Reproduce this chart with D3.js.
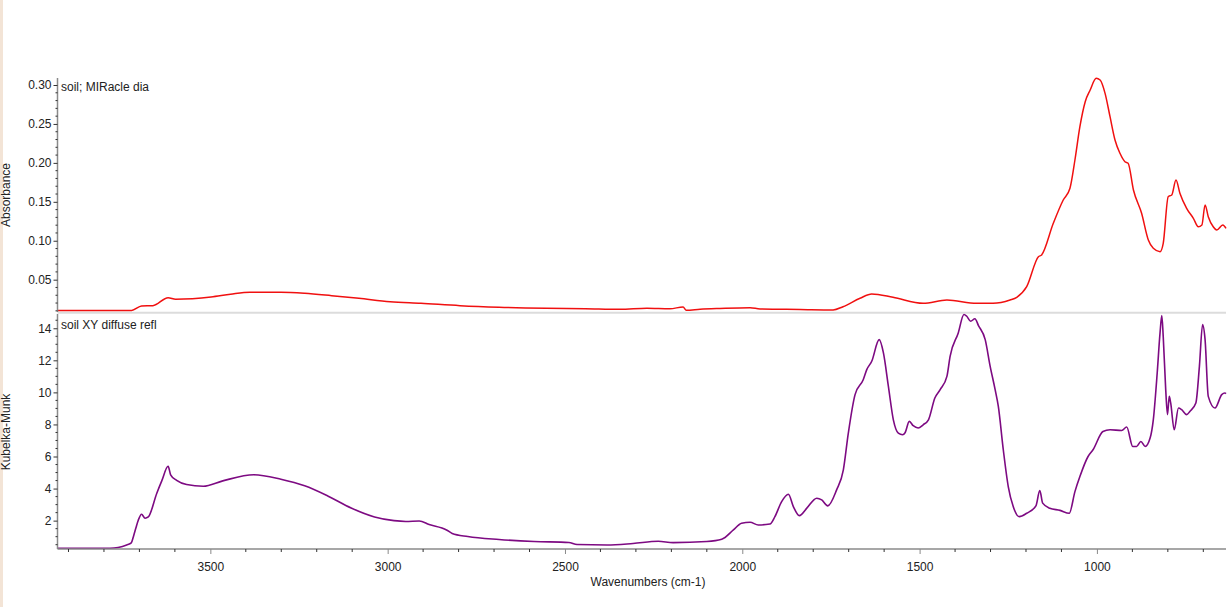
<!DOCTYPE html>
<html>
<head>
<meta charset="utf-8">
<script src="https://cdn.jsdelivr.net/npm/d3@7"></script>
<style>
  html, body { margin: 0; padding: 0; background: #fff; }
  svg { display: block; font-family: "Liberation Sans", Arial, sans-serif; }
</style>
</head>
<body>
<svg id="chart" width="1232" height="607"></svg>
<script>
// ---- Data (wavenumber cm-1, value) ----
const absWavenumbers = [3930,3783,3722,3694,3662,3619,3598,3498,3443,3388,3301,3234,3158,3081,2993,2906,2796,2686,2553,2443,2345,2269,2204,2167,2158,2119,2063,1978,1950,1837,1744,1716,1668,1635,1575,1490,1423,1339,1293,1245,1226,1198,1165,1156,1123,1095,1076,1062,1048,1033,1019,1002,991,977,963,949,935,921,912,897,874,855,841,822,813,799,789,777,766,747,728,714,704,695,686,672,662,645,636];
const absValues = [0.0105,0.0105,0.0105,0.0162,0.0166,0.0269,0.0250,0.0278,0.0313,0.0338,0.0338,0.0325,0.0295,0.0261,0.0218,0.0197,0.0166,0.0146,0.0133,0.0128,0.0120,0.0133,0.0126,0.0150,0.0108,0.0120,0.0130,0.0140,0.0124,0.0117,0.0111,0.0153,0.0261,0.0316,0.0274,0.0197,0.0239,0.0197,0.0197,0.0239,0.0274,0.0410,0.0795,0.0817,0.1224,0.1523,0.1674,0.2037,0.2465,0.2786,0.2936,0.3086,0.3064,0.2893,0.2593,0.2294,0.2123,0.2015,0.1995,0.1652,0.1353,0.1010,0.0903,0.0860,0.0967,0.1566,0.1588,0.1780,0.1610,0.1417,0.1288,0.1180,0.1202,0.1459,0.1309,0.1180,0.1138,0.1202,0.1160];

const kmWavenumbers = [3930,3783,3760,3736,3723,3717,3710,3703,3694,3684,3675,3651,3637,3619,3612,3595,3567,3520,3465,3377,3301,3234,3169,3103,3037,2982,2949,2911,2883,2834,2818,2774,2686,2587,2489,2466,2381,2308,2237,2195,2100,2058,2025,2002,1978,1955,1922,1908,1889,1870,1856,1839,1818,1790,1776,1759,1734,1715,1701,1682,1659,1649,1635,1614,1602,1588,1574,1560,1548,1541,1529,1518,1504,1490,1475,1457,1442,1423,1414,1391,1375,1367,1356,1344,1334,1315,1301,1287,1278,1264,1250,1236,1219,1198,1172,1161,1153,1133,1104,1078,1062,1048,1025,1011,983,963,930,916,899,888,876,864,850,841,830,822,817,813,806,801,796,792,782,770,761,747,738,721,711,702,695,686,667,648,639,636];
const kmValues = [0.275,0.275,0.325,0.48,0.61,1.0,1.54,2.04,2.4,2.15,2.23,3.71,4.48,5.39,4.86,4.51,4.25,4.14,4.48,4.86,4.58,4.17,3.54,2.79,2.23,2.0,1.95,1.98,1.76,1.42,1.2,1.01,0.825,0.70,0.64,0.51,0.48,0.575,0.71,0.63,0.70,0.84,1.42,1.84,1.90,1.73,1.79,2.25,3.19,3.65,2.875,2.31,2.78,3.40,3.29,2.92,3.92,5.17,7.46,9.86,10.79,11.42,11.94,13.29,12.46,10.375,8.29,7.46,7.36,7.48,8.19,7.92,7.78,7.98,8.29,9.65,10.17,11.0,12.25,13.71,14.86,14.75,14.44,14.59,14.17,13.29,11.625,10.17,9.125,6.42,4.125,2.875,2.25,2.46,2.92,3.875,3.09,2.775,2.64,2.46,3.81,4.75,6.0,6.42,7.56,7.67,7.625,7.84,6.625,6.625,6.94,6.625,7.15,8.29,11.21,13.71,14.79,13.48,10.17,8.61,9.75,9.34,7.67,9.025,8.92,8.61,8.81,9.34,11.625,14.23,13.29,9.75,9.025,9.86,9.96,9.92];

const xTickValues = [3500, 3000, 2500, 2000, 1500, 1000];
const absTickValues = [0.05, 0.10, 0.15, 0.20, 0.25, 0.30];
const kmTickValues = [2, 4, 6, 8, 10, 12, 14];
const xDomain = [3931, 636];
const absDomain = [0.0085, 0.309];
const kmDomain = [0.23, 14.89];

// ---- Layout ----
const svg = d3.select("#chart");
const left = 57.5, right = 1226;
const topY0 = 78, topY1 = 312;
const botY0 = 314, botY1 = 549;

// beige left strip
svg.append("rect").attr("x", 0).attr("y", 0).attr("width", 3).attr("height", 607).attr("fill", "#f3e4d6");

const x = d3.scaleLinear().domain(xDomain).range([left, right]);
const yA = d3.scaleLinear().domain(absDomain).range([topY1, topY0]);
const yK = d3.scaleLinear().domain(kmDomain).range([botY1, botY0]);

// divider
svg.append("line").attr("x1", left).attr("x2", right).attr("y1", 312.8).attr("y2", 312.8)
  .attr("stroke", "#dcdcdc").attr("stroke-width", 2);

// curves
const absData = absWavenumbers.map((w, i) => [w, absValues[i]]);
const kmData = kmWavenumbers.map((w, i) => [w, kmValues[i]]);

svg.append("path").datum(absData)
  .attr("fill", "none").attr("stroke", "#f01010").attr("stroke-width", 1.5)
  .attr("d", d3.line().x(d => x(d[0])).y(d => yA(d[1])).curve(d3.curveMonotoneX));

svg.append("path").datum(kmData)
  .attr("fill", "none").attr("stroke", "#7d0a82").attr("stroke-width", 1.6)
  .attr("d", d3.line().x(d => x(d[0])).y(d => yK(d[1])).curve(d3.curveMonotoneX));

// ---- Axes ----
const axisColor = "#8a8a8a";
const tickColor = "#333";
const fontSize = 12;
const fontFam = '"Liberation Sans", Arial, sans-serif';

// x axis
const gx = svg.append("g").attr("transform", `translate(0,${botY1})`);
gx.append("line").attr("x1", left).attr("x2", right).attr("y1", 0).attr("y2", 0)
  .attr("stroke", axisColor).attr("stroke-width", 1.5);
const xMinor = d3.range(3900, 600, -100).filter(v => !xTickValues.includes(v));
gx.selectAll("line.minor").data(xMinor).join("line")
  .attr("x1", d => x(d)).attr("x2", d => x(d)).attr("y1", 0).attr("y2", 3)
  .attr("stroke", tickColor).attr("stroke-width", 1);
gx.call(g => {
  const ax = d3.axisBottom(x).tickValues(xTickValues).tickSize(5).tickPadding(8).tickFormat(d3.format("d"));
  const sub = g.append("g").call(ax);
  sub.select(".domain").remove();
  sub.selectAll(".tick line").attr("stroke", axisColor);
  sub.selectAll("text").attr("fill", "#222").style("font-size", fontSize + "px").style("font-family", fontFam);
});

function yAxis(scale, y0, y1, ticks, minorStep, fmt) {
  const g = svg.append("g").attr("transform", `translate(${left},0)`);
  g.append("line").attr("x1", 0).attr("x2", 0).attr("y1", y0).attr("y2", y1)
    .attr("stroke", axisColor).attr("stroke-width", 1.5);
  const dom = scale.domain();
  const minor = d3.range(Math.ceil(dom[0] / minorStep) * minorStep, dom[1], minorStep)
    .filter(v => !ticks.some(t => Math.abs(t - v) < minorStep / 10));
  g.selectAll("line.minor").data(minor).join("line")
    .attr("x1", -2).attr("x2", 0).attr("y1", d => scale(d)).attr("y2", d => scale(d))
    .attr("stroke", tickColor).attr("stroke-width", 1);
  const ax = d3.axisLeft(scale).tickValues(ticks).tickSize(4).tickPadding(2).tickFormat(fmt);
  const sub = g.append("g").call(ax);
  sub.select(".domain").remove();
  sub.selectAll(".tick line").attr("stroke", tickColor);
  sub.selectAll("text").attr("fill", "#222").style("font-size", fontSize + "px").style("font-family", fontFam);
}
yAxis(yA, topY0, topY1, absTickValues, 0.01, d3.format(".2f"));
yAxis(yK, botY0, botY1, kmTickValues, 0.5, d3.format("d"));

// titles
svg.append("text").attr("x", 648).attr("y", 586).attr("text-anchor", "middle")
  .style("font-size", fontSize + "px").attr("fill", "#222").text("Wavenumbers (cm-1)");
svg.append("text").attr("transform", "translate(10,195) rotate(-90)").attr("text-anchor", "middle")
  .style("font-size", fontSize + "px").attr("fill", "#222").text("Absorbance");
svg.append("text").attr("transform", "translate(10,432) rotate(-90)").attr("text-anchor", "middle")
  .style("font-size", fontSize + "px").attr("fill", "#222").text("Kubelka-Munk");

// panel labels
svg.append("text").attr("x", 61).attr("y", 91).style("font-size", "12px").attr("fill", "#222").text("soil; MIRacle dia");
svg.append("text").attr("x", 61).attr("y", 329).style("font-size", "12px").attr("fill", "#222").text("soil XY diffuse refl");
</script>
</body>
</html>
